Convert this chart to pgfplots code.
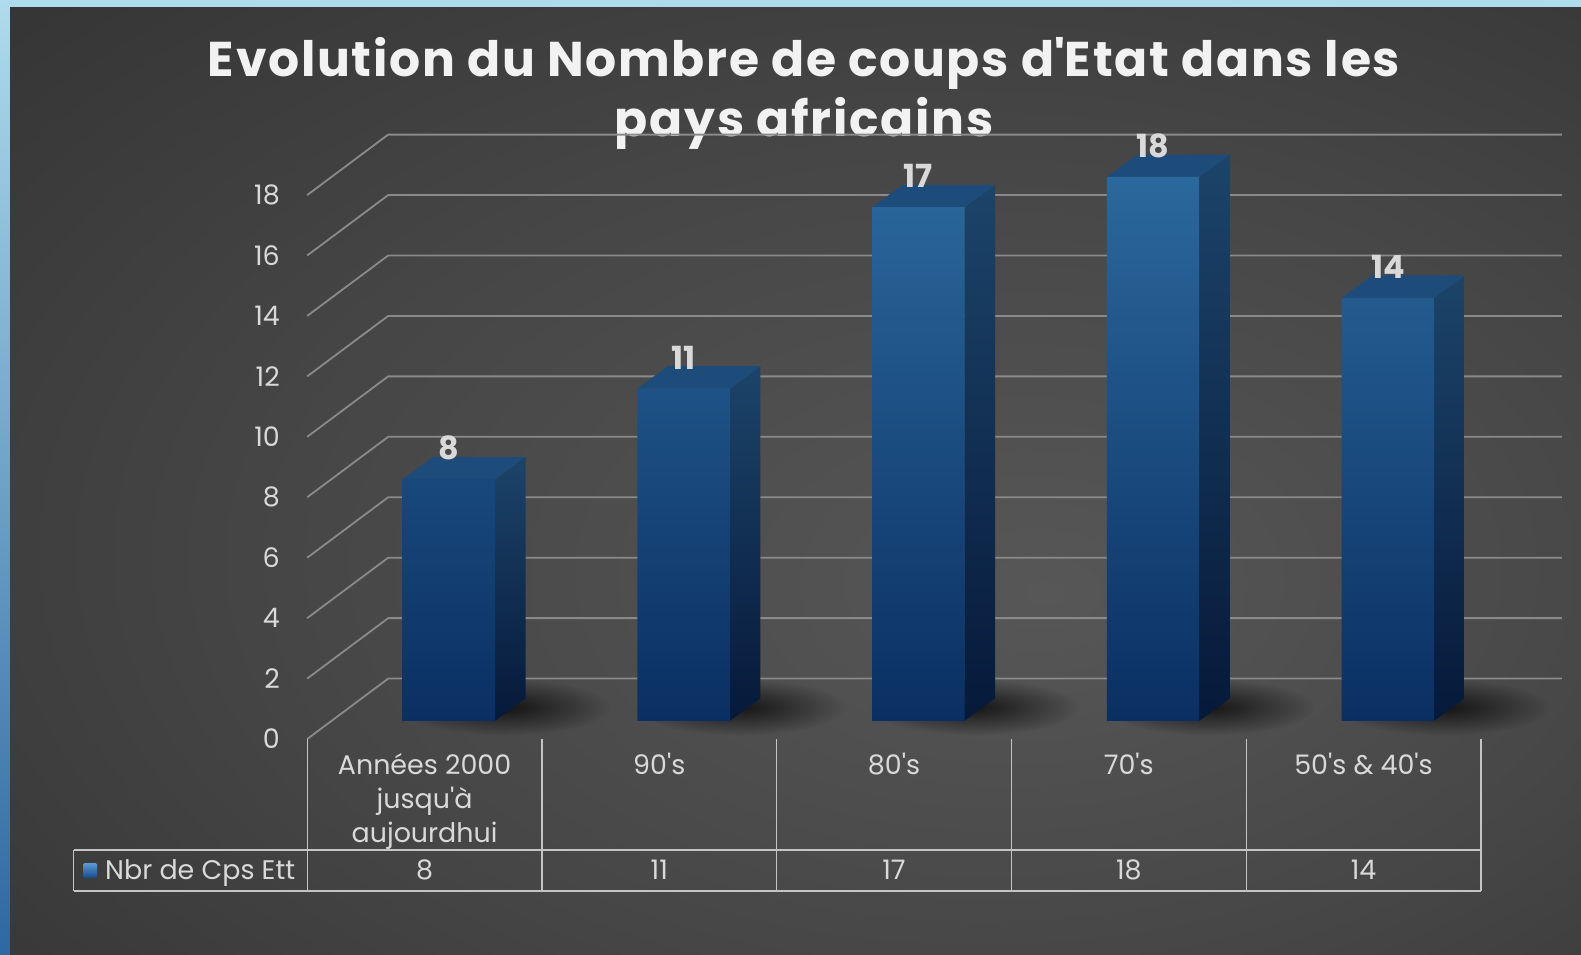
\documentclass[border=0pt]{standalone}
\usepackage{pgfplots}
\pgfplotsset{compat=1.18}
\usetikzlibrary{fadings}
\usepackage{fontspec}
\setmainfont{Poppins}
\newfontfamily\titlefont[LetterSpace=3.5]{Poppins}
\definecolor{bgin}{HTML}{575757}
\definecolor{bgmid}{HTML}{464646}
\definecolor{bgout}{HTML}{2C2C2C}
\definecolor{frameTop}{HTML}{AEDCEC}
\definecolor{frameBot}{HTML}{2E68A2}
\definecolor{gridc}{HTML}{8A8A8A}
\definecolor{tabc}{HTML}{C4C4C4}
\definecolor{tickc}{HTML}{D9D9D9}
\definecolor{titlec}{HTML}{F2F2F2}
\definecolor{frontTop}{HTML}{2B689C}
\definecolor{frontBot}{HTML}{0A2F63}
\definecolor{sideTop}{HTML}{1C4469}
\definecolor{sideBot}{HTML}{06193A}
\definecolor{topc}{HTML}{1E4C7A}
\definecolor{iconTop}{HTML}{5A9AD8}
\definecolor{iconBot}{HTML}{164A86}
\pgfdeclareradialshading{bgshade}{\pgfpoint{8bp}{-6bp}}{color(0bp)=(bgin); color(22bp)=(bgmid); color(50bp)=(bgout); color(75bp)=(bgout)}
\tikzfading[name=softshadow, inner color=transparent!20, outer color=transparent!100]
\begin{document}
\begin{tikzpicture}
\begin{scope}[x=1bp,y=1bp]
% frame and background
\fill[frameTop] (0,0) rectangle (1581,954);
\shade[top color=frameTop, bottom color=frameBot] (0,0) rectangle (10,954);
\shade[shading=bgshade] (10,0) rectangle (1581,946);
% title
\node[anchor=base, text=titlec, font=\titlefont\bfseries\fontsize{49}{60}\selectfont] at (804,877.4) {Evolution du Nombre de coups d\textquotesingle Etat dans les};
\node[anchor=base, text=titlec, font=\titlefont\bfseries\fontsize{49}{60}\selectfont] at (804,817) {pays africains};
\end{scope}
\begin{axis}[
  at={(331.5bp,214.97bp)}, anchor=south west,
  scale only axis, width=1173.7bp, height=562.09bp,
  xmin=-0.5, xmax=4.5, ymin=-0.6, ymax=18,
  clip=false,
  axis line style={draw=none},
  tick style={draw=none},
  major tick length=0pt,
  no markers,
  xtick={-0.1035,0.8965,1.8965,2.8965,3.8965},
  xticklabels={{Années 2000\\jusqu\textquotesingle à\\aujourdhui},{90\textquotesingle s},{80\textquotesingle s},{70\textquotesingle s},{50\textquotesingle s \& 40\textquotesingle s}},
  xticklabel style={align=center, anchor=north, inner sep=0pt, yshift=-13.9bp, font=\fontsize{27}{34.5}\selectfont, text=tickc},
  ytick={-0.6,1.4,3.4,5.4,7.4,9.4,11.4,13.4,15.4,17.4},
  yticklabels={0,2,4,6,8,10,12,14,16,18},
  yticklabel style={anchor=east, inner sep=0pt, xshift=-51.5bp, font=\fontsize{27}{32}\selectfont, text=tickc},
]
% gridlines (left wall + back wall)
\addplot[gridc, line width=1.8bp] coordinates {(-0.6035,-0.6) (-0.2585,1.4) (4.7415,1.4)};
\addplot[gridc, line width=1.8bp] coordinates {(-0.6035,1.4) (-0.2585,3.4) (4.7415,3.4)};
\addplot[gridc, line width=1.8bp] coordinates {(-0.6035,3.4) (-0.2585,5.4) (4.7415,5.4)};
\addplot[gridc, line width=1.8bp] coordinates {(-0.6035,5.4) (-0.2585,7.4) (4.7415,7.4)};
\addplot[gridc, line width=1.8bp] coordinates {(-0.6035,7.4) (-0.2585,9.4) (4.7415,9.4)};
\addplot[gridc, line width=1.8bp] coordinates {(-0.6035,9.4) (-0.2585,11.4) (4.7415,11.4)};
\addplot[gridc, line width=1.8bp] coordinates {(-0.6035,11.4) (-0.2585,13.4) (4.7415,13.4)};
\addplot[gridc, line width=1.8bp] coordinates {(-0.6035,13.4) (-0.2585,15.4) (4.7415,15.4)};
\addplot[gridc, line width=1.8bp] coordinates {(-0.6035,15.4) (-0.2585,17.4) (4.7415,17.4)};
\addplot[gridc, line width=1.8bp] coordinates {(-0.6035,17.4) (-0.2585,19.4) (4.7415,19.4)};
% soft floor shadows
\fill[black, opacity=0.9, path fading=softshadow] (axis cs:0.24,0.45) ellipse [x radius=105bp, y radius=28bp];
\fill[black, opacity=0.9, path fading=softshadow] (axis cs:1.24,0.45) ellipse [x radius=105bp, y radius=28bp];
\fill[black, opacity=0.9, path fading=softshadow] (axis cs:2.24,0.45) ellipse [x radius=105bp, y radius=28bp];
\fill[black, opacity=0.9, path fading=softshadow] (axis cs:3.24,0.45) ellipse [x radius=105bp, y radius=28bp];
\fill[black, opacity=0.9, path fading=softshadow] (axis cs:4.24,0.45) ellipse [x radius=105bp, y radius=28bp];
% bar right faces
\addplot[draw=none, top color=sideTop, bottom color=sideBot] coordinates {(0.1966,0) (0.3266,0.74) (0.3266,8.74) (0.1966,8)} --cycle;
\addplot[draw=none, top color=sideTop, bottom color=sideBot] coordinates {(1.1966,0) (1.3266,0.74) (1.3266,11.74) (1.1966,11)} --cycle;
\addplot[draw=none, top color=sideTop, bottom color=sideBot] coordinates {(2.1966,0) (2.3266,0.74) (2.3266,17.74) (2.1966,17)} --cycle;
\addplot[draw=none, top color=sideTop, bottom color=sideBot] coordinates {(3.1966,0) (3.3266,0.74) (3.3266,18.74) (3.1966,18)} --cycle;
\addplot[draw=none, top color=sideTop, bottom color=sideBot] coordinates {(4.1966,0) (4.3266,0.74) (4.3266,14.74) (4.1966,14)} --cycle;
% bar top faces
\addplot[draw=none, fill=topc] coordinates {(-0.1966,8) (0.1966,8) (0.3266,8.74) (-0.0666,8.74)} --cycle;
\addplot[draw=none, fill=topc] coordinates {(0.8034,11) (1.1966,11) (1.3266,11.74) (0.9334,11.74)} --cycle;
\addplot[draw=none, fill=topc] coordinates {(1.8034,17) (2.1966,17) (2.3266,17.74) (1.9334,17.74)} --cycle;
\addplot[draw=none, fill=topc] coordinates {(2.8034,18) (3.1966,18) (3.3266,18.74) (2.9334,18.74)} --cycle;
\addplot[draw=none, fill=topc] coordinates {(3.8034,14) (4.1966,14) (4.3266,14.74) (3.9334,14.74)} --cycle;
% bar front faces with value labels
\addplot[ybar, bar width=92.3bp, draw=none, top color=frontTop, bottom color=frontBot,
  nodes near coords, /pgf/number format/assume math mode=true,
  every node near coord/.append style={inner sep=0pt, yshift=19bp, text=tickc, font=\bfseries\fontsize{32}{36}\selectfont}]
  coordinates {(0,8) (1,11) (2,17) (3,18) (4,14)};
\end{axis}
\begin{scope}[x=1bp,y=1bp]
% data table
\draw[tabc, line width=1.3bp] (73.6,104) -- (1480.9,104);
\draw[tabc, line width=1.3bp] (73.6,63) -- (1480.9,63);
\draw[tabc, line width=1.3bp] (73.6,63) -- (73.6,104);
\foreach \xx in {307.2,541.9,776.7,1011.4,1246.2,1480.9} {\draw[tabc, line width=1.3bp] (\xx,215) -- (\xx,63);}
\shade[top color=iconTop, bottom color=iconBot, rounded corners=1.5bp] (83,76) rectangle (97,91);
\node[anchor=base west, inner sep=0pt, text=tickc, font=\fontsize{27}{32}\selectfont] at (105,75) {Nbr de Cps Ett};
\foreach \xx/\vv in {424.6/8,659.3/11,894.0/17,1128.8/18,1363.5/14} {\node[anchor=base, inner sep=0pt, text=tickc, font=\fontsize{27}{32}\selectfont] at (\xx,75) {\vv};}
\end{scope}
\end{tikzpicture}
\end{document}
